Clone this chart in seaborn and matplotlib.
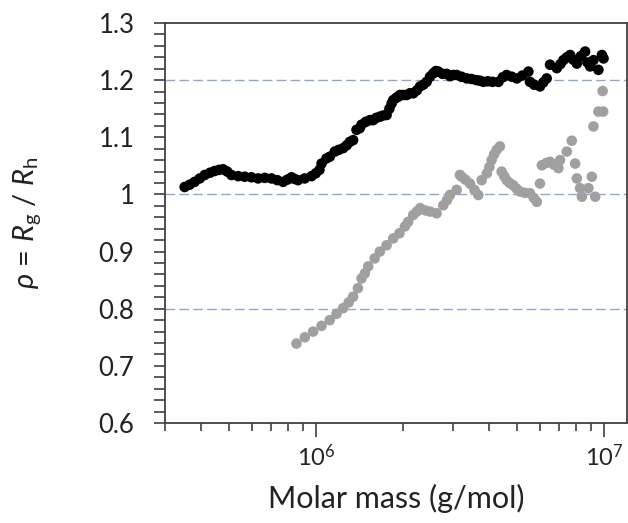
import numpy as np
import pandas as pd
import matplotlib
matplotlib.use("Agg")
import matplotlib.pyplot as plt
import matplotlib.ticker as mticker
import seaborn as sns

# ---- data ----
black_mass = [3.51e5, 3.65e5, 3.80e5, 3.96e5, 4.12e5, 4.30e5, 4.46e5, 4.62e5, 4.77e5, 4.93e5,
              5.10e5, 5.38e5, 5.67e5, 5.98e5, 6.31e5, 6.65e5, 7.02e5, 7.35e5, 7.70e5, 7.98e5,
              8.24e5, 8.45e5, 8.68e5, 9.15e5, 9.66e5, 1.00e6, 1.03e6, 1.047e6, 1.089e6, 1.118e6,
              1.164e6, 1.20e6, 1.244e6, 1.28e6, 1.312e6, 1.347e6, 1.384e6, 1.421e6, 1.441e6,
              1.49e6, 1.540e6, 1.581e6, 1.62e6, 1.668e6, 1.71e6, 1.760e6, 1.80e6, 1.832e6,
              1.855e6, 1.90e6, 1.931e6, 1.957e6, 2.01e6, 2.065e6, 2.12e6, 2.177e6, 2.24e6,
              2.30e6, 2.36e6, 2.423e6, 2.49e6, 2.555e6, 2.61e6, 2.66e6, 2.75e6, 2.844e6,
              2.92e6, 3.00e6, 3.08e6, 3.20e6, 3.34e6, 3.47e6, 3.61e6, 3.71e6, 3.81e6, 3.95e6,
              4.10e6, 4.30e6, 4.45e6, 4.59e6, 4.78e6, 4.98e6, 5.20e6, 5.46e6, 5.53e6, 5.72e6,
              5.99e6, 6.15e6, 6.32e6, 6.49e6, 6.85e6, 7.05e6, 7.22e6, 7.42e6, 7.62e6, 7.80e6,
              8.04e6, 8.30e6, 8.59e6, 8.75e6, 8.94e6, 9.18e6, 9.55e6, 9.82e6, 9.95e6]
black_rho = [1.013, 1.017, 1.022, 1.028, 1.034, 1.038, 1.041, 1.043, 1.044, 1.040,
             1.034, 1.032, 1.031, 1.030, 1.028, 1.029, 1.028, 1.025, 1.022, 1.026,
             1.030, 1.027, 1.025, 1.028, 1.032, 1.037, 1.043, 1.054, 1.063, 1.066,
             1.075, 1.078, 1.081, 1.086, 1.092, 1.095, 1.113, 1.116, 1.122,
             1.127, 1.130, 1.130, 1.134, 1.136, 1.138, 1.139, 1.150, 1.159,
             1.165, 1.169, 1.171, 1.174, 1.174, 1.174, 1.177, 1.177, 1.182,
             1.189, 1.192, 1.197, 1.206, 1.212, 1.216, 1.215, 1.211, 1.211,
             1.207, 1.209, 1.209, 1.206, 1.203, 1.202, 1.200, 1.199, 1.197, 1.198,
             1.197, 1.197, 1.205, 1.209, 1.206, 1.203, 1.208, 1.215, 1.197, 1.192,
             1.189, 1.196, 1.203, 1.227, 1.221, 1.228, 1.235, 1.240, 1.244, 1.236,
             1.229, 1.242, 1.250, 1.231, 1.224, 1.235, 1.218, 1.244, 1.238]

gray_mass = [8.57e5, 9.16e5, 9.79e5, 1.047e6, 1.118e6, 1.18e6, 1.244e6, 1.30e6, 1.347e6,
             1.40e6, 1.441e6, 1.48e6, 1.519e6, 1.60e6, 1.668e6, 1.76e6, 1.855e6, 1.95e6,
             2.037e6, 2.09e6, 2.177e6, 2.24e6, 2.30e6, 2.40e6, 2.49e6, 2.624e6, 2.767e6,
             2.85e6, 2.92e6, 3.08e6, 3.16e6, 3.206e6, 3.30e6, 3.425e6, 3.55e6, 3.66e6,
             3.76e6, 3.92e6, 4.00e6, 4.07e6, 4.15e6, 4.24e6, 4.35e6, 4.41e6, 4.50e6,
             4.59e6, 4.70e6, 4.84e6, 4.97e6, 5.11e6, 5.30e6, 5.53e6, 5.70e6, 5.84e6,
             5.99e6, 6.08e6, 6.30e6, 6.49e6, 6.70e6, 6.94e6, 7.03e6, 7.42e6, 7.72e6,
             7.93e6, 8.04e6, 8.25e6, 8.37e6, 8.82e6, 9.06e6, 9.31e6, 9.18e6, 9.55e6,
             9.92e6, 9.88e6]
gray_rho = [0.739, 0.750, 0.760, 0.770, 0.780, 0.791, 0.801, 0.811, 0.821,
            0.836, 0.853, 0.862, 0.874, 0.888, 0.900, 0.911, 0.923, 0.932,
            0.944, 0.952, 0.964, 0.970, 0.976, 0.972, 0.970, 0.967, 0.981,
            0.990, 0.999, 1.008, 1.034, 1.031, 1.026, 1.019, 1.008, 0.999,
            1.025, 1.037, 1.048, 1.060, 1.070, 1.078, 1.084, 1.040, 1.032,
            1.025, 1.020, 1.016, 1.010, 1.005, 1.003, 1.002, 0.994, 0.987,
            1.019, 1.051, 1.055, 1.057, 1.052, 1.046, 1.060, 1.075, 1.094,
            1.054, 1.028, 1.011, 0.996, 1.011, 1.031, 0.996, 1.119, 1.145,
            1.145, 1.181]

grid_levels = [0.8, 1.0, 1.2]
y_ticks = [0.6, 0.7, 0.8, 0.9, 1.0, 1.1, 1.2, 1.3]
y_ticklabels = ["0.6", "0.7", "0.8", "0.9", "1", "1.1", "1.2", "1.3"]

df = pd.DataFrame({
    "mass": black_mass + gray_mass,
    "rho": black_rho + gray_rho,
    "series": ["A"] * len(black_mass) + ["B"] * len(gray_mass),
})

sns.set_style("ticks")
plt.rcParams["font.family"] = ["Lato", "DejaVu Sans"]
plt.rcParams["mathtext.fontset"] = "custom"
plt.rcParams["mathtext.rm"] = "Lato"
plt.rcParams["mathtext.it"] = "Lato:italic"

fig = plt.figure(figsize=(6.28, 5.23), dpi=100)
ax = fig.add_axes([165 / 628, 100 / 523, 462 / 628, 400 / 523])

for lv in grid_levels:
    ax.axhline(lv, color="#8ea6d6", lw=1.0, ls=(0, (7, 3)), zorder=0)

sns.scatterplot(data=df, x="mass", y="rho", hue="series",
                palette={"A": "#000000", "B": "#a0a0a0"},
                s=58, edgecolor="none", linewidth=0, legend=False, ax=ax, zorder=3)

ax.set_xscale("log")
ax.set_xlim(3e5, 1.2e7)
ax.set_ylim(0.6, 1.3)
ax.set_yticks(y_ticks)
ax.set_yticklabels(y_ticklabels)
ax.yaxis.set_minor_locator(mticker.MultipleLocator(0.02))
ax.xaxis.set_major_locator(mticker.LogLocator(base=10, numticks=10))
ax.xaxis.set_minor_locator(mticker.LogLocator(base=10, subs=np.arange(2, 10), numticks=10))
ax.xaxis.set_minor_formatter(mticker.NullFormatter())

for sp in ax.spines.values():
    sp.set_color("#404040")
    sp.set_linewidth(1.3)

ax.tick_params(axis="y", which="both", direction="out", length=8, width=1.2,
               color="#404040", labelsize=18.5, pad=14, labelcolor="#222222")
ax.tick_params(axis="x", which="major", direction="out", length=10, width=1.2,
               color="#404040", labelsize=17, pad=5, labelcolor="#222222")
ax.tick_params(axis="x", which="minor", direction="out", length=6, width=1.2,
               color="#404040")

ax.set_xlabel("Molar mass (g/mol)", fontsize=22, labelpad=10, color="#222222")
ax.set_ylabel(r"$\rho$ = $R_{\mathrm{g}}$ / $R_{\mathrm{h}}$", fontsize=21,
              labelpad=40, color="#222222")

fig.savefig("out.png", dpi=100)
